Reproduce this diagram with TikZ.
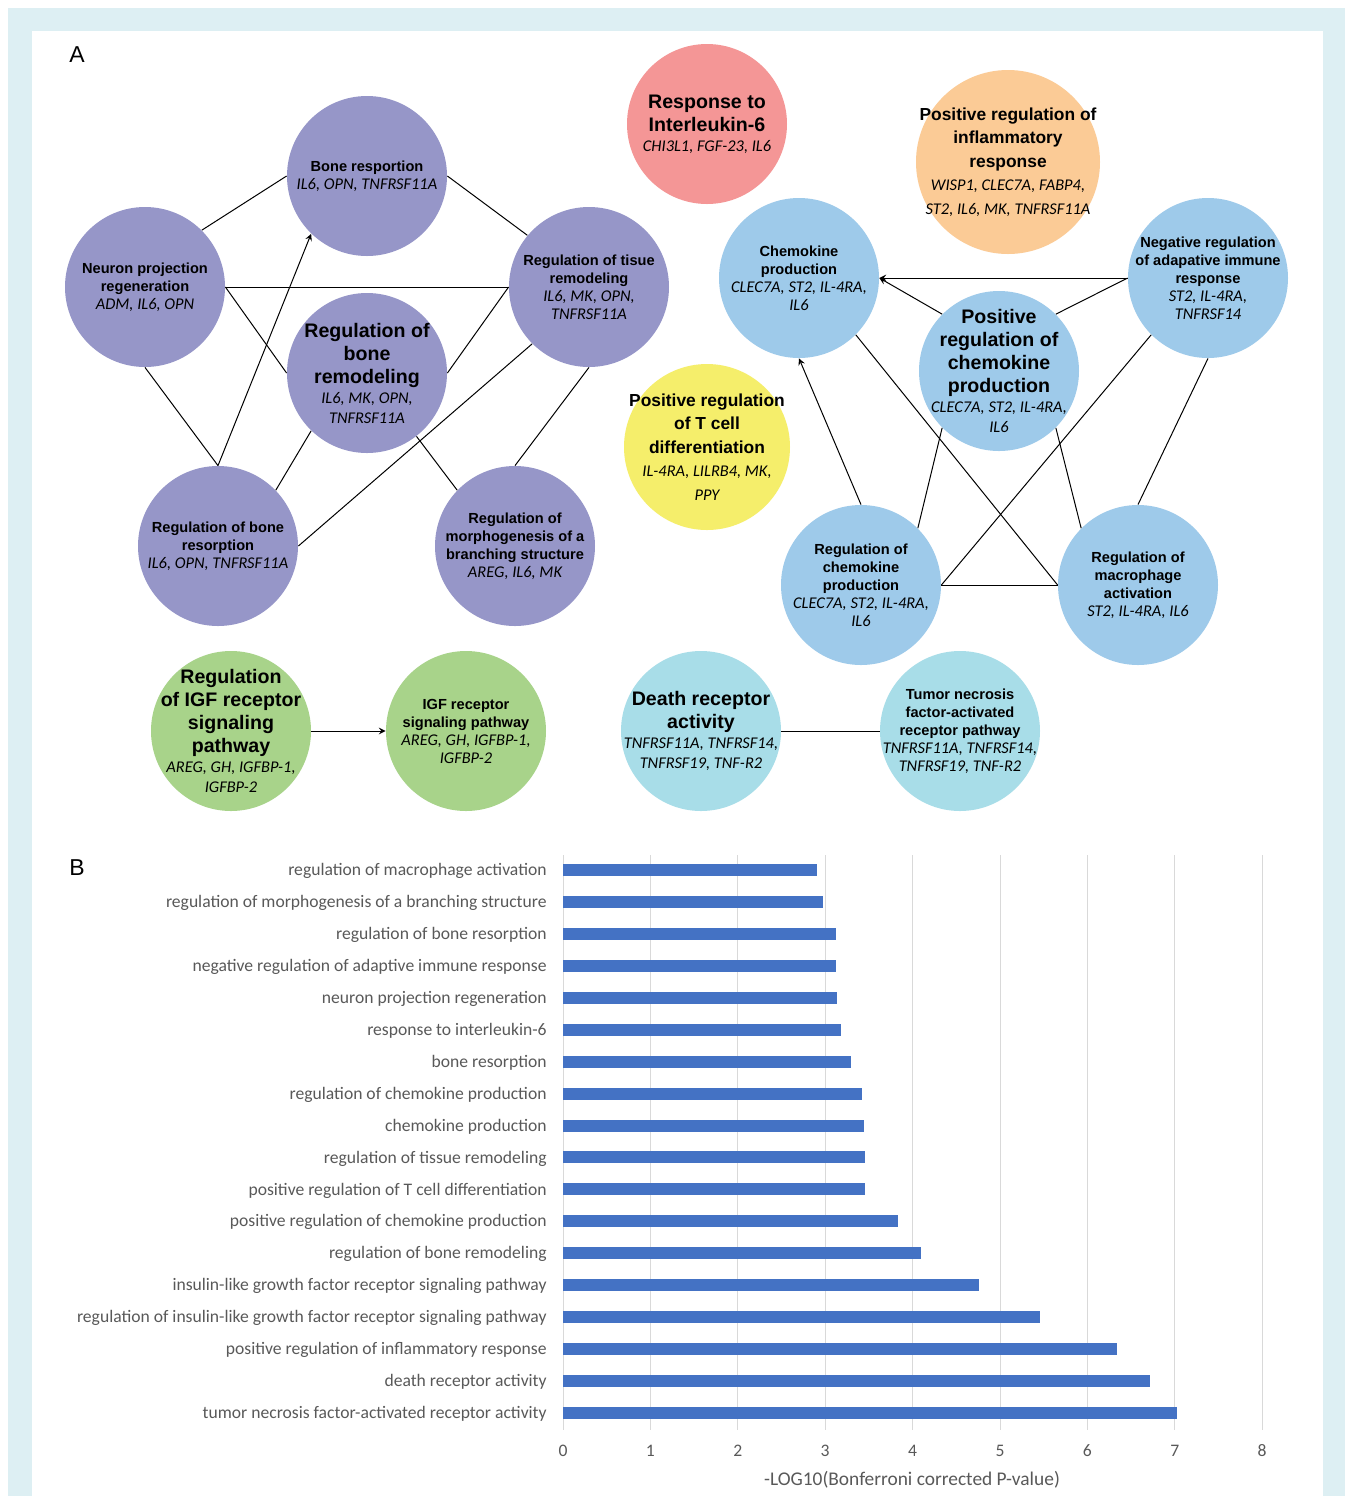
\documentclass[tikz,border=0pt]{standalone}
\usepackage{fontspec}
\setmainfont{Liberation Sans}
\newfontfamily\carl{Carlito}
\usetikzlibrary{arrows}

\definecolor{frameblue}{HTML}{DDEFF3}
\definecolor{purplenode}{HTML}{9696C8}
\definecolor{rednode}{HTML}{F49696}
\definecolor{orangenode}{HTML}{FBCB96}
\definecolor{bluenode}{HTML}{9ECAEA}
\definecolor{yellownode}{HTML}{F5EE6B}
\definecolor{greennode}{HTML}{A8D38A}
\definecolor{cyannode}{HTML}{A8DDE8}
\definecolor{barblue}{HTML}{4472C4}
\definecolor{labelgray}{HTML}{595959}
\definecolor{gridgray}{HTML}{D9D9D9}

\newcommand{\goterm}[1]{{\bfseries #1}}
\newcommand{\golist}[1]{{\carl\itshape\fontsize{8.2}{9}\selectfont #1}}

\begin{document}
\begin{tikzpicture}[x=0.5pt,y=-0.5pt]
        \tikzstyle{term}=[circle,minimum size=80pt,inner sep=0pt]
        \tikzstyle{txt}=[align=center,inner sep=0pt,font=\fontsize{7.3}{9}\selectfont]
        \tikzstyle{bigtxt}=[align=center,inner sep=0pt,font=\fontsize{9.8}{11.5}\selectfont]
        \tikzstyle{midtxt}=[align=center,inner sep=0pt,font=\fontsize{8.7}{11.7}\selectfont]
        \tikzstyle{edge}=[draw,line width=0.5pt]
        \tikzstyle{arr}=[->,>=stealth]
        \tikzstyle{bar}=[fill=barblue]
        \tikzstyle{axtxt}=[text=labelgray,font=\carl\fontsize{8.8}{10.5}\selectfont]

        \useasboundingbox (0,0) rectangle (1345,1496);
        \fill[frameblue] (8,8) rectangle (1345,1496);
        \fill[white] (32,31) rectangle (1323,1496);

        % panel A
        \begin{scope}
        \node[font=\fontsize{11.5}{13}\selectfont] (lblA) at (77,55) {A};

        \node[term,fill=purplenode] (bres) at (367,176) {};
        \node[term,fill=purplenode] (neur) at (145,287) {};
        \node[term,fill=purplenode] (tis) at (589,287) {};
        \node[term,fill=purplenode] (brem) at (367,373) {};
        \node[term,fill=purplenode] (rbr) at (218,546) {};
        \node[term,fill=purplenode] (morph) at (515,546) {};
        \node[term,fill=rednode] (il6) at (707,124) {};
        \node[term,fill=orangenode,minimum size=92pt] (infl) at (1008,162) {};
        \node[term,fill=bluenode] (chem) at (799,278) {};
        \node[term,fill=bluenode] (pos) at (999,371) {};
        \node[term,fill=bluenode] (neg) at (1208,278) {};
        \node[term,fill=bluenode] (rcp) at (861,585) {};
        \node[term,fill=bluenode] (mac) at (1138,585) {};
        \node[term,fill=yellownode,minimum size=83pt] (tcell) at (707,447) {};
        \node[term,fill=greennode] (rigf) at (231,731) {};
        \node[term,fill=greennode] (igf) at (466,731) {};
        \node[term,fill=cyannode] (dr) at (701,731) {};
        \node[term,fill=cyannode] (tnf) at (960,731) {};

        \node[txt] (bres-t) at (bres) {\goterm{Bone resportion}\\\golist{IL6, OPN, TNFRSF11A}};
        \node[txt] (neur-t) at (neur) {\goterm{Neuron projection}\\\goterm{regeneration}\\\golist{ADM, IL6, OPN}};
        \node[txt] (tis-t) at (tis) {\goterm{Regulation of tisue}\\\goterm{remodeling}\\\golist{IL6, MK, OPN,}\\\golist{TNFRSF11A}};
        \node[bigtxt] (brem-t) at (brem) {\goterm{Regulation of}\\\goterm{bone}\\\goterm{remodeling}\\[-1.5pt]\golist{IL6, MK, OPN,}\\[-1.5pt]\golist{TNFRSF11A}};
        \node[txt] (rbr-t) at (rbr) {\goterm{Regulation of bone}\\\goterm{resorption}\\\golist{IL6, OPN, TNFRSF11A}};
        \node[txt] (morph-t) at (morph) {\goterm{Regulation of}\\\goterm{morphogenesis of a}\\\goterm{branching structure}\\\golist{AREG, IL6, MK}};
        \node[bigtxt] (il6-t) at (il6) {\goterm{Response to}\\\goterm{Interleukin-6}\\[-1.5pt]\golist{CHI3L1, FGF-23, IL6}};
        \node[midtxt] (infl-t) at (infl) {\goterm{Positive regulation of}\\\goterm{inflammatory}\\\goterm{response}\\\golist{WISP1, CLEC7A, FABP4,}\\\golist{ST2, IL6, MK, TNFRSF11A}};
        \node[txt] (chem-t) at (chem) {\goterm{Chemokine}\\\goterm{production}\\\golist{CLEC7A, ST2, IL-4RA,}\\\golist{IL6}};
        \node[bigtxt] (pos-t) at (pos) {\goterm{Positive}\\\goterm{regulation of}\\\goterm{chemokine}\\\goterm{production}\\[-1.5pt]\golist{CLEC7A, ST2, IL-4RA,}\\[-1.5pt]\golist{IL6}};
        \node[txt] (neg-t) at (neg) {\goterm{Negative regulation}\\\goterm{of adapative immune}\\\goterm{response}\\\golist{ST2, IL-4RA,}\\\golist{TNFRSF14}};
        \node[txt] (rcp-t) at (rcp) {\goterm{Regulation of}\\\goterm{chemokine}\\\goterm{production}\\\golist{CLEC7A, ST2, IL-4RA,}\\\golist{IL6}};
        \node[txt] (mac-t) at (mac) {\goterm{Regulation of}\\\goterm{macrophage}\\\goterm{activation}\\\golist{ST2, IL-4RA, IL6}};
        \node[midtxt] (tcell-t) at (tcell) {\goterm{Positive regulation}\\\goterm{of T cell}\\\goterm{differentiation}\\\golist{IL-4RA, LILRB4, MK,}\\\golist{PPY}};
        \node[bigtxt] (rigf-t) at (rigf) {\goterm{Regulation}\\\goterm{of IGF receptor}\\\goterm{signaling}\\\goterm{pathway}\\[-1.5pt]\golist{AREG, GH, IGFBP-1,}\\[-1.5pt]\golist{IGFBP-2}};
        \node[txt] (igf-t) at (igf) {\goterm{IGF receptor}\\\goterm{signaling pathway}\\\golist{AREG, GH, IGFBP-1,}\\\golist{IGFBP-2}};
        \node[bigtxt] (dr-t) at (dr) {\goterm{Death receptor}\\\goterm{activity}\\[-1.5pt]\golist{TNFRSF11A, TNFRSF14,}\\[-1.5pt]\golist{TNFRSF19, TNF-R2}};
        \node[txt] (tnf-t) at (tnf) {\goterm{Tumor necrosis}\\\goterm{factor-activated}\\\goterm{receptor pathway}\\\golist{TNFRSF11A, TNFRSF14,}\\\golist{TNFRSF19, TNF-R2}};

        \path[edge] (neur.45) edge (bres.west);
        \path[edge] (bres.east) edge (tis.140);
        \path[edge] (neur.east) edge (tis.west);
        \path[edge] (neur.east) edge (brem.west);
        \path[edge] (tis.west) edge (brem.east);
        \path[edge] (neur.south) edge (rbr.north);
        \path[edge] (rbr.north) edge[arr] (bres.226);
        \path[edge] (rbr.44) edge (brem.226);
        \path[edge] (rbr.east) edge (tis.225);
        \path[edge] (brem.-52) edge (morph.136);
        \path[edge] (tis.south) edge (morph.north);

        \path[edge] (neg.west) edge[arr] (chem.east);
        \path[edge] (pos.135) edge[arr] (chem.east);
        \path[edge] (pos.45) edge (neg.west);
        \path[edge] (rcp.north) edge[arr] (chem.south);
        \path[edge] (chem.-45) edge (mac.west);
        \path[edge] (rcp.45) edge (pos.225);
        \path[edge] (rcp.east) edge (neg.225);
        \path[edge] (rcp.east) edge (mac.west);
        \path[edge] (pos.-45) edge (mac.135);
        \path[edge] (neg.south) edge (mac.north);

        \path[edge] (rigf.east) edge[arr] (igf.west);
        \path[edge] (dr.east) edge (tnf.west);
        \end{scope}

        % panel B
        \begin{scope}
        \node[font=\fontsize{11.5}{13}\selectfont] (lblB) at (77,868) {B};
        \foreach \k in {0,...,8} {
          \draw[gridgray,line width=0.5pt] ({563+87.4*\k},855) -- ({563+87.4*\k},1430);
          \node[axtxt] (tick\k) at ({563+87.4*\k},1451) {\k};
        }
        \foreach \v/\lab [count=\i] in {
            2.91/regulation of macrophage activation,
            2.98/regulation of morphogenesis of a branching structure,
            3.12/regulation of bone resorption,
            3.12/negative regulation of adaptive immune response,
            3.14/neuron projection regeneration,
            3.18/response to interleukin-6,
            3.29/bone resorption,
            3.42/regulation of chemokine production,
            3.44/chemokine production,
            3.46/regulation of tissue remodeling,
            3.46/positive regulation of T cell differentiation,
            3.83/positive regulation of chemokine production,
            4.10/regulation of bone remodeling,
            4.76/insulin-like growth factor receptor signaling pathway,
            5.46/regulation of insulin-like growth factor receptor signaling pathway,
            6.34/positive regulation of inflammatory response,
            6.72/death receptor activity,
            7.02/tumor necrosis factor-activated receptor activity} {
          \fill[bar] (563,{870+31.94*(\i-1)-6}) rectangle ({563+87.4*\v},{870+31.94*(\i-1)+6});
          \node[axtxt,anchor=east,inner sep=0pt] (lab\i) at (547,{871+31.94*(\i-1)}) {\lab};
        }
        \node[axtxt,font=\carl\fontsize{9.7}{11}\selectfont] (xtitle) at (912,1480) {-LOG10(Bonferroni corrected P-value)};
        \end{scope}
      \end{tikzpicture}
\end{document}
